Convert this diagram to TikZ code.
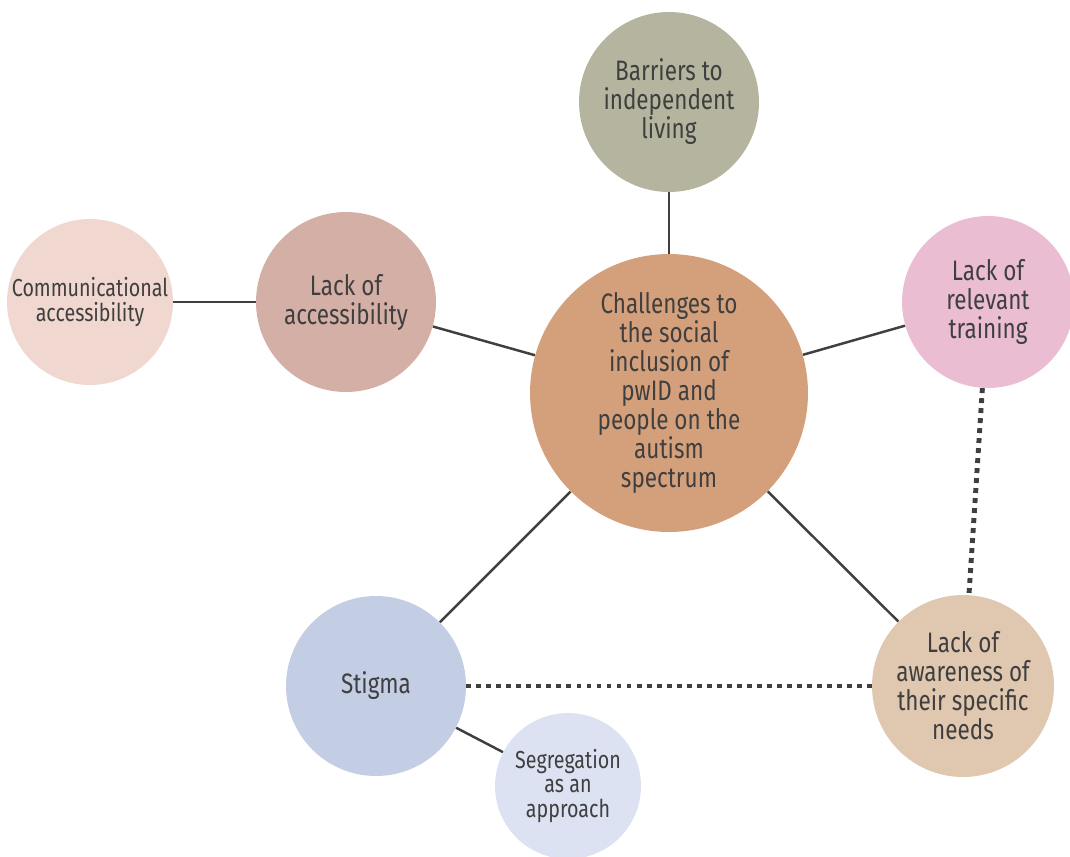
\documentclass[tikz,border=0pt]{standalone}
\usepackage{fontspec}
\setmainfont{Fira Sans}[FakeStretch=0.8]
\definecolor{cCenter}{HTML}{D4A07C}
\definecolor{cBarrier}{HTML}{B5B59F}
\definecolor{cAccess}{HTML}{D4AFA6}
\definecolor{cComm}{HTML}{F0D7CF}
\definecolor{cTrain}{HTML}{EABDD3}
\definecolor{cAware}{HTML}{E0C7B0}
\definecolor{cStigma}{HTML}{C3CDE3}
\definecolor{cSegreg}{HTML}{DCE2F2}
\definecolor{cInk}{HTML}{3F3F3F}
\begin{document}
\begin{tikzpicture}[x=0.02cm,y=-0.02cm] % 1 unit = 1 pixel
\tikzstyle{mybubble} = [circle, inner sep=0pt, align=center, text=cInk, font=\fontsize{16}{16.5}\selectfont] % main bubble style
\tikzstyle{mysmall} = [mybubble, font=\fontsize{14}{14.2}\selectfont] % small bubble style
\tikzstyle{mylink} = [draw=cInk, line width=1.4pt] % solid connector
\tikzstyle{mydots} = [draw=cInk, line width=2.8pt, dash pattern=on 2.8pt off 2.9pt] % dotted connector
\useasboundingbox (0,0) rectangle (1070,856);
% узлы
\node[mybubble, fill=cCenter, minimum size=5.56cm] (center) at (669,393) {Challenges to\\the social\\inclusion of\\pwID and\\people on the\\autism\\spectrum};
\node[mybubble, fill=cBarrier, minimum size=3.6cm] (barrier) at (669,102) {Barriers to\\independent\\living};
\node[mybubble, fill=cAccess, minimum size=3.6cm] (access) at (346,302) {Lack of\\accessibility};
\node[mysmall, fill=cComm, minimum size=3.32cm] (comm) at (90,302) {Communicational\\accessibility};
\node[mybubble, fill=cTrain, minimum size=3.44cm] (train) at (988,302) {Lack of\\relevant\\training};
\node[mybubble, fill=cAware, minimum size=3.64cm] (aware) at (963,686) {Lack of\\awareness of\\their specific\\needs};
\node[mybubble, fill=cStigma, minimum size=3.6cm] (stigma) at (376,686) {Stigma};
\node[mysmall, fill=cSegreg, minimum size=2.92cm] (segreg) at (568,786) {Segregation\\as an\\approach};
% связи
\draw[mylink] (center) -- (barrier);
\draw[mylink] (center) -- (access);
\draw[mylink] (access) -- (comm);
\draw[mylink] (center) -- (train);
\draw[mylink] (center) -- (aware);
\draw[mylink] (center) -- (stigma);
\draw[mylink] (stigma) -- (segreg);
\draw[mydots] (stigma) -- (aware);
\draw[mydots] (train) -- (aware);
\end{tikzpicture}
\end{document}
